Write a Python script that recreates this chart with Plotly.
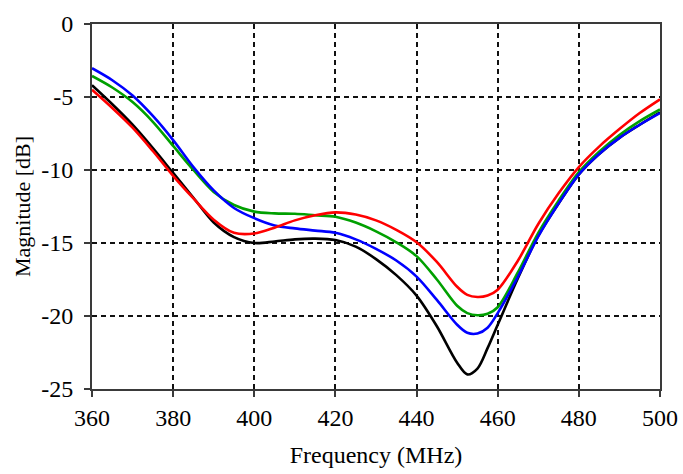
import plotly.graph_objects as go

freq = [360, 365, 370, 375, 380, 385, 390, 395, 400, 405, 410, 415, 420, 425, 430,
        435, 440, 445, 450, 452.5, 455, 457.5, 460, 465, 470, 475, 480, 485, 490, 495, 500]

black = [-4.2, -5.5, -6.9, -8.5, -10.2, -11.9, -13.6, -14.6, -15.0, -14.9, -14.75, -14.7,
         -14.8, -15.25, -16.1, -17.2, -18.6, -20.7, -23.2, -24.0, -23.6, -22.2, -20.6,
         -17.4, -14.5, -12.3, -10.3, -8.9, -7.8, -6.9, -6.05]
red = [-4.5, -5.75, -7.1, -8.7, -10.4, -11.95, -13.4, -14.3, -14.35, -13.95, -13.45, -13.1,
       -12.9, -13.05, -13.45, -14.1, -14.95, -16.3, -18.0, -18.55, -18.7, -18.6, -18.2,
       -16.2, -13.7, -11.6, -9.8, -8.4, -7.2, -6.1, -5.16]
green = [-3.56, -4.35, -5.35, -6.7, -8.35, -10.0, -11.5, -12.4, -12.85, -12.97, -13.0, -13.1,
         -13.2, -13.6, -14.2, -14.95, -15.9, -17.5, -19.3, -19.8, -19.95, -19.85, -19.4,
         -17.0, -14.3, -12.1, -10.15, -8.75, -7.6, -6.65, -5.85]
blue = [-3.03, -3.85, -4.9, -6.3, -7.95, -9.8, -11.4, -12.6, -13.3, -13.8, -14.0, -14.15,
        -14.3, -14.75, -15.4, -16.2, -17.3, -18.9, -20.6, -21.15, -21.2, -20.8, -19.8,
        -17.3, -14.55, -12.3, -10.3, -8.9, -7.8, -6.9, -6.1]

x_ticks = [360, 380, 400, 420, 440, 460, 480, 500]
y_ticks = [0, -5, -10, -15, -20, -25]
y_tick_text = ["0", "-5", "-10", "-15", "-20", "-25"]

series = [("black", black, "#000000"), ("green", green, "#00a000"),
          ("blue", blue, "#0000ff"), ("red", red, "#ff0000")]

fig = go.Figure()
for name, vals, col in series:
    fig.add_trace(go.Scatter(x=freq, y=vals, mode="lines", name=name,
                             line=dict(color=col, width=2.6, shape="spline", smoothing=0.9)))

font_family = "Liberation Serif, Times New Roman, serif"
axis_common = dict(
    showline=True, linecolor="#3a3a3a", linewidth=2, mirror=True,
    ticks="outside", ticklen=6, tickwidth=2, tickcolor="#3a3a3a",
    showgrid=True, gridcolor="#111111", gridwidth=1.6, griddash="5px,4px",
    zeroline=False, automargin=False,
    tickfont=dict(family=font_family, size=24, color="#000000"),
)

fig.update_layout(
    width=683, height=474,
    margin=dict(l=92, r=23, t=24, b=85),
    paper_bgcolor="white", plot_bgcolor="white",
    showlegend=False,
    font=dict(family=font_family, color="#000000"),
    xaxis=dict(range=[360, 500], tickvals=x_ticks, ticklabelstandoff=0,
               title=dict(text="Frequency (MHz)", font=dict(family=font_family, size=24), standoff=16),
               **axis_common),
    yaxis=dict(range=[-25, 0], tickvals=y_ticks, ticktext=y_tick_text, ticklabelstandoff=6,
               title=dict(text="Magnitude [dB]", font=dict(family=font_family, size=22), standoff=5),
               **axis_common),
)

fig.write_html("out.html", config={"displayModeBar": False},
               post_script="document.body.style.margin='0';")
